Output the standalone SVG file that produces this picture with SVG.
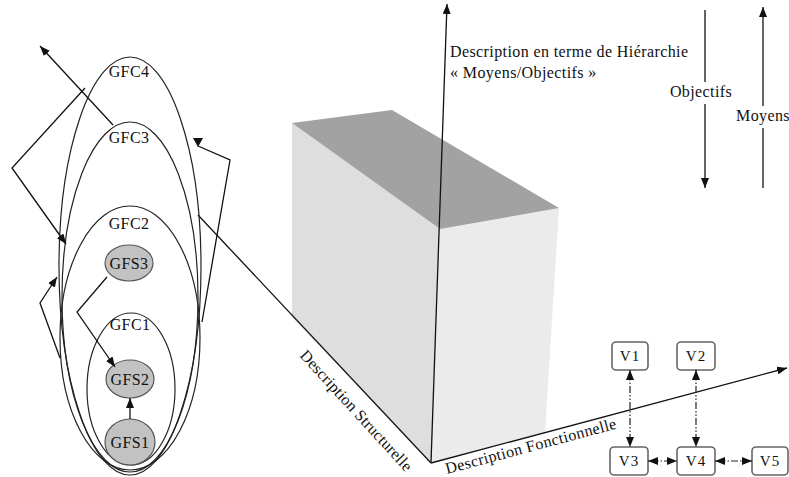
<svg xmlns="http://www.w3.org/2000/svg" width="789" height="477" viewBox="0 0 789 477">
<style>
text{font-family:"Liberation Serif","Times New Roman",serif;font-size:16px;fill:#111;letter-spacing:0.4px}
.ln{fill:none;stroke:#111;stroke-width:1.3}
.ar{marker-end:url(#ah)}
.bi{marker-start:url(#ah);marker-end:url(#ah)}
.el{fill:none;stroke:#222;stroke-width:1.2}
.gfs{fill:#c2c2c2;stroke:#555;stroke-width:1.2}
.v{fill:#fff;stroke:#666;stroke-width:1.6}
.dd{fill:none;stroke:#222;stroke-width:1.2;stroke-dasharray:7 2 1.5 2 1.5 2}
.c{text-anchor:middle}
.vt{font-size:15px;letter-spacing:1px;text-anchor:middle}
</style>
<defs>
<marker id="ah" viewBox="0 0 10 8" refX="10" refY="4" markerWidth="10" markerHeight="8" markerUnits="userSpaceOnUse" orient="auto-start-reverse">
<path d="M0,0 L10,4 L0,8 z" fill="#111"/>
</marker>
<marker id="ahd" viewBox="0 0 10 10" refX="8" refY="5" markerWidth="10" markerHeight="10" markerUnits="userSpaceOnUse" orient="90">
<path d="M0,0 L9,5 L0,10 z" fill="#111"/>
</marker>
</defs>
<rect width="789" height="477" fill="#fff"/>

<g id="box">
<polygon points="292,123 440,229 431,463 292,317" fill="#dedede"/>
<polygon points="440,229 559,208 545,432 431,463" fill="#ebebeb"/>
<polygon points="292,123 392,110 559,208 440,229" fill="#a2a2a2"/>
</g>

<g id="axes">
<line class="ln ar" x1="431" y1="463" x2="447" y2="4"/>
<line class="ln ar" x1="431" y1="463" x2="787" y2="368"/>
<line class="ln" x1="431" y1="463" x2="198" y2="215"/>
<text x="450" y="57">Description en terme de Hiérarchie</text>
<text x="450" y="78">« Moyens/Objectifs »</text>
<text transform="translate(299,356) rotate(47.5)" style="letter-spacing:0.2px">Description Structurelle</text>
<text transform="translate(447,474) rotate(-15)">Description Fonctionnelle</text>
</g>

<g id="objectifs">
<line class="ln ar" x1="705" y1="10" x2="705" y2="188"/>
<rect x="668" y="82" width="66" height="22" fill="#fff"/>
<text x="701" y="97" class="c">Objectifs</text>
</g>
<g id="moyens">
<line class="ln ar" x1="763" y1="188" x2="763" y2="7"/>
<rect x="734" y="106" width="60" height="22" fill="#fff"/>
<text x="736" y="121">Moyens</text>
</g>

<g id="GFC4"><ellipse class="el" cx="130" cy="266" rx="71" ry="209"/><text x="129" y="77" class="c">GFC4</text></g>
<g id="GFC3"><ellipse class="el" cx="130" cy="297" rx="68" ry="175"/><text x="129" y="143" class="c">GFC3</text></g>
<g id="GFC2"><ellipse class="el" cx="130" cy="338" rx="70" ry="132"/><text x="129" y="229" class="c">GFC2</text></g>
<g id="GFC1"><ellipse class="el" cx="131" cy="389" rx="44" ry="76"/><text x="130" y="330" class="c">GFC1</text></g>
<g id="GFS3"><ellipse class="gfs" cx="129" cy="263" rx="24" ry="18"/><text x="129" y="269" class="c">GFS3</text></g>
<g id="GFS2"><ellipse class="gfs" cx="130" cy="379" rx="24" ry="19"/><text x="130" y="385" class="c">GFS2</text></g>
<g id="GFS1"><ellipse class="gfs" cx="130" cy="442" rx="25" ry="23"/><text x="130" y="448" class="c">GFS1</text></g>

<g id="V1"><rect class="v" x="612" y="342" width="36" height="28" rx="4"/><text x="630" y="361" class="vt">V1</text></g>
<g id="V2"><rect class="v" x="677" y="342" width="38" height="28" rx="4"/><text x="696" y="361" class="vt">V2</text></g>
<g id="V3"><rect class="v" x="610" y="447" width="38" height="28" rx="4"/><text x="629" y="466" class="vt">V3</text></g>
<g id="V4"><rect class="v" x="677" y="447" width="38" height="28" rx="4"/><text x="696" y="466" class="vt">V4</text></g>
<g id="V5"><rect class="v" x="752" y="447" width="36" height="28" rx="4"/><text x="770" y="466" class="vt">V5</text></g>

<g id="connectors">
<line class="ln ar" x1="130" y1="419" x2="130" y2="398"/>
<polyline class="ln ar" points="107,277 77,312 115,367"/>
<polyline class="ln ar" points="60,358 40,303 57,277"/>
<polyline class="ln ar" points="85,88 12,168 66,244"/>
<line class="ln ar" x1="113" y1="125" x2="40" y2="46"/>
<polyline points="202,322 230,160 198,146" class="ln" marker-end="url(#ahd)"/>
<line class="dd bi" x1="630" y1="370" x2="630" y2="447"/>
<line class="dd bi" x1="696" y1="370" x2="696" y2="447"/>
<line class="dd bi" x1="648" y1="461" x2="677" y2="461"/>
<line class="dd bi" x1="715" y1="461" x2="752" y2="461"/>
</g>
</svg>
